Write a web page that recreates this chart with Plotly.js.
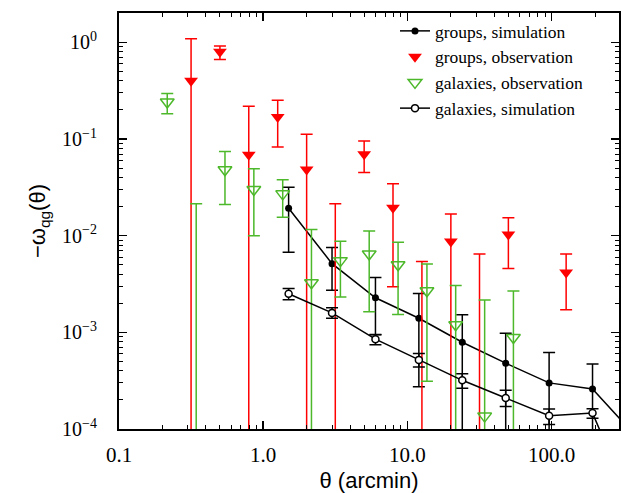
<!DOCTYPE html>
<html>
<head>
<meta charset="utf-8">
<script src="https://cdn.plot.ly/plotly-3.0.1.min.js"></script>
<style>html,body{margin:0;padding:0;background:#fff;}#chart{width:623px;height:493px;}</style>
</head>
<body>
<div id="chart"></div>
<script>
// theta (arcmin) for each series
const simTheta = [1.5, 3, 6, 12, 24, 48, 96, 192, 384];
const groupsObsTheta = [0.316, 0.501, 0.794, 1.26, 2.0, 3.16, 5.01, 7.94, 12.6, 20.0, 31.6, 50.1, 126];
const galaxiesObsTheta = [0.216, 0.343, 0.543, 0.861, 1.365, 2.16, 3.43, 5.43, 8.61, 13.65, 21.6, 34.3, 54.3];

// groups, simulation: value, upper bound, lower bound (0 = below plot)
const groupsSimVal = [0.0192, 0.00514, 0.00228, 0.00140, 0.00079, 0.00048, 0.00030, 0.00026, 0.000084];
const groupsSimHi  = [0.0318, 0.00753, 0.00370, 0.00253, 0.00152, 0.00098, 0.00062, 0.00047, 0.00016];
const groupsSimLo  = [0.00673, 0.00272, 0.00095, 0.000274, 0, 0, 0, 0, 0];

// galaxies, simulation
const galaxiesSimVal = [0.00251, 0.00159, 0.00085, 0.000519, 0.000319, 0.000209, 0.000137, 0.000146, 0.000013];
const galaxiesSimHi  = [0.00285, 0.00180, 0.000942, 0.000603, 0.000374, 0.000251, 0.000161, 0.000162, 0.00002];
const galaxiesSimLo  = [0.00217, 0.00140, 0.000742, 0.000439, 0.000264, 0.000171, 0.000111, 0.000129, 0.00001];

// groups, observation
const groupsObsVal = [0.40, 0.80, 0.0689, 0.169, 0.0485, 0.00005, 0.0694, 0.0194, 0.00005, 0.00869, 0.00005, 0.0103, 0.00417];
const groupsObsHi  = [1.09, 0.92, 0.218, 0.252, 0.112, 0.0214, 0.0953, 0.0345, 0.00542, 0.0168, 0.00647, 0.0153, 0.00647];
const groupsObsLo  = [0, 0.667, 0, 0.0826, 0, 0, 0.0451, 0.00297, 0, 0, 0, 0.00459, 0.00171];

// galaxies, observation
const galaxiesObsVal = [0.242, 0.00005, 0.0481, 0.0301, 0.0271, 0.00326, 0.00552, 0.00647, 0.00501, 0.00269, 0.00120, 0.000136, 0.000883];
const galaxiesObsHi  = [0.296, 0.0214, 0.0745, 0.0493, 0.0379, 0.01157, 0.00875, 0.0112, 0.00855, 0.00510, 0.00306, 0.00216, 0.00267];
const galaxiesObsLo  = [0.183, 0, 0.0210, 0.0100, 0.0155, 0, 0.00232, 0.00163, 0.00153, 0.000312, 0, 0, 0];

const xTickVals = [0.1, 1, 10, 100];
const xTickText = ['0.1', '1.0', '10.0', '100.0'];
const yTickVals = [1, 0.1, 0.01, 0.001, 0.0001];
const yTickText = ['10<sup>0</sup>', '10<sup>\u22121</sup>', '10<sup>\u22122</sup>', '10<sup>\u22123</sup>', '10<sup>\u22124</sup>'];

// minor tick positions: 2..9 within each decade
function minorTicks(decades) {
  const out = [];
  decades.forEach(d => { for (let m = 2; m <= 9; m++) out.push(m * Math.pow(10, d)); });
  return out;
}

function errY(val, hi, lo, color) {
  return {
    type: 'data', symmetric: false,
    array: val.map((v, i) => hi[i] - v),
    arrayminus: val.map((v, i) => v - lo[i]),
    color: color, thickness: 1.5, width: 6
  };
}

const RED = '#ff0000';
const GREEN = '#4cb82a';

const traces = [
  {
    name: 'groups, simulation', x: simTheta, y: groupsSimVal, mode: 'lines+markers',
    line: {color: 'black', width: 1.5},
    marker: {symbol: 'circle', size: 7, color: 'black'},
    error_y: errY(groupsSimVal, groupsSimHi, groupsSimLo, 'black')
  },
  {
    name: 'groups, observation', x: groupsObsTheta, y: groupsObsVal, mode: 'markers',
    marker: {symbol: 'triangle-down', size: 12, color: RED},
    error_y: errY(groupsObsVal, groupsObsHi, groupsObsLo, RED)
  },
  {
    name: 'galaxies, observation', x: galaxiesObsTheta, y: galaxiesObsVal, mode: 'markers',
    marker: {symbol: 'triangle-down-open', size: 12, color: GREEN, line: {width: 1.5, color: GREEN}},
    error_y: errY(galaxiesObsVal, galaxiesObsHi, galaxiesObsLo, GREEN)
  },
  {
    name: 'galaxies, simulation', x: simTheta, y: galaxiesSimVal, mode: 'lines+markers',
    line: {color: 'black', width: 1.5},
    marker: {symbol: 'circle', size: 7, color: 'white', line: {color: 'black', width: 1.5}},
    error_y: errY(galaxiesSimVal, galaxiesSimHi, galaxiesSimLo, 'black')
  }
];

const axisCommon = {
  type: 'log', showline: true, linecolor: 'black', linewidth: 2, mirror: 'ticks',
  ticks: 'inside', ticklen: 8, tickwidth: 1.5, tickcolor: 'black',
  showgrid: false, zeroline: false, tickmode: 'array'
};

const layout = {
  width: 623, height: 493,
  margin: {l: 119, r: 4, t: 13, b: 64},
  paper_bgcolor: 'white', plot_bgcolor: 'white',
  showlegend: true,
  legend: {
    x: 0.552, y: 1.0, xanchor: 'left', yanchor: 'top',
    bgcolor: 'rgba(0,0,0,0)', borderwidth: 0,
    font: {family: '"Liberation Serif", "Times New Roman", serif', size: 17.5, color: 'black'},
    tracegroupgap: 0
  },
  xaxis: Object.assign({}, axisCommon, {
    range: [-1, Math.log10(293)],
    tickvals: xTickVals, ticktext: xTickText,
    minor: {tickmode: 'array', tickvals: minorTicks([-1, 0, 1, 2]), ticks: 'inside', ticklen: 4, tickwidth: 1, tickcolor: 'black', showgrid: false},
    tickfont: {family: '"Liberation Serif", "Times New Roman", serif', size: 21, color: 'black'},
    ticklabelstandoff: 6,
    title: {text: '\u03b8 (arcmin)', font: {family: '"Liberation Sans", Arial, sans-serif', size: 22, color: 'black'}, standoff: 6}
  }),
  yaxis: Object.assign({}, axisCommon, {
    range: [-4, 0.304],
    tickvals: yTickVals, ticktext: yTickText,
    minor: {tickmode: 'array', tickvals: minorTicks([-4, -3, -2, -1, 0]), ticks: 'inside', ticklen: 4, tickwidth: 1, tickcolor: 'black', showgrid: false},
    tickfont: {family: '"Liberation Serif", "Times New Roman", serif', size: 20, color: 'black'},
    ticklabelstandoff: 16,
    title: {text: '\u2212\u03c9<sub>qg</sub>(\u03b8)', font: {family: '"Liberation Sans", Arial, sans-serif', size: 22, color: 'black'}, standoff: 10}
  })
};

Plotly.newPlot('chart', traces, layout, {displayModeBar: false, staticPlot: true});
</script>
</body>
</html>
